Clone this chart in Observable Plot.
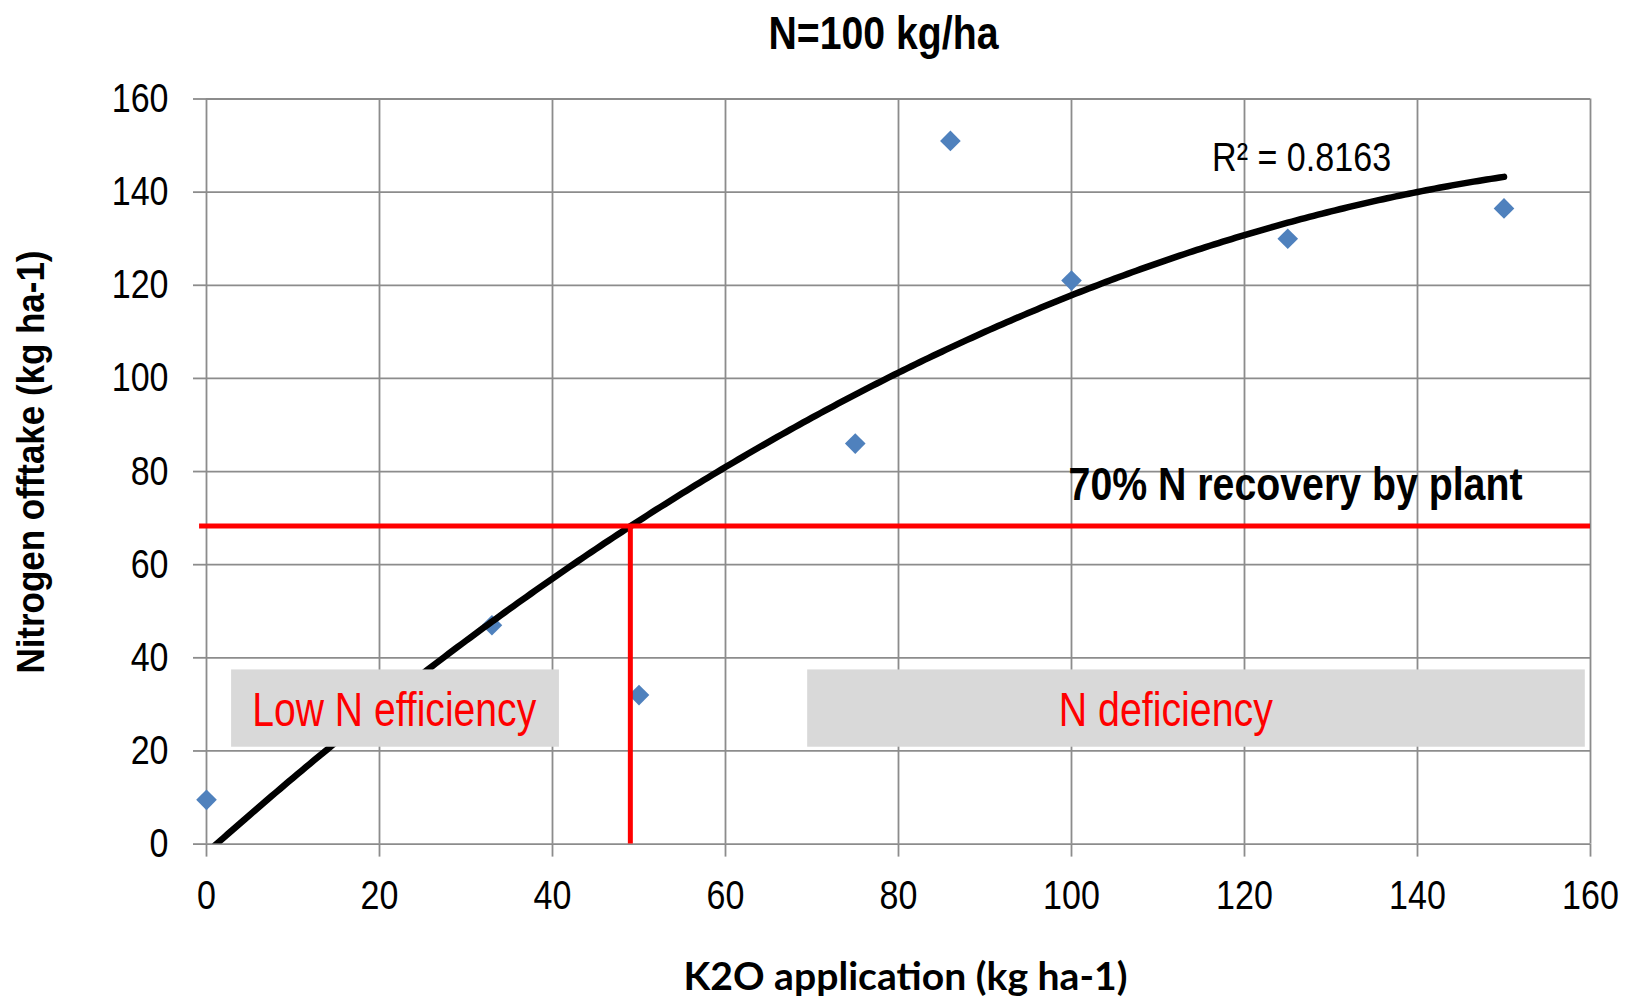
<!DOCTYPE html>
<html>
<head>
<meta charset="utf-8">
<script src="https://cdn.jsdelivr.net/npm/d3@7"></script>
<script src="https://cdn.jsdelivr.net/npm/@observablehq/plot@0.6"></script>
<style>
  html, body { margin: 0; padding: 0; background: #ffffff; }
  #chart svg { display: block; }
</style>
</head>
<body>
<div id="chart"></div>
<script>
// K2O application (kg/ha) and measured nitrogen offtake (kg/ha) at N = 100 kg/ha
const k2o = [0, 33, 50, 75, 86, 100, 125, 150];
const nOfftake = [9.5, 47, 32, 86, 151, 121, 130, 136.5];

const xTicks = [0, 20, 40, 60, 80, 100, 120, 140, 160];
const yTicks = [0, 20, 40, 60, 80, 100, 120, 140, 160];

// 70 % recovery threshold and the K2O rate where the trend reaches it
const recoveryLevel = 68.3;
const recoveryK2O = 49;
const recoverySpan = [-0.8, 160];

// shaded zones along the x axis
const zoneNames = ["Low N efficiency", "N deficiency"];
const zoneStart = [2.9, 69.5];
const zoneEnd = [40.8, 159.4];
const zoneLabelAt = [21.7, 110.9];
const zoneBand = [20.8, 37.4];
const zoneLabelY = 28.7;

const titleText = "N=100 kg/ha";
const xTitle = "K2O application (kg ha-1)";
const yTitle = "Nitrogen offtake (kg ha-1)";
const recoveryText = "70% N recovery by plant";
const r2Text = "R\u00b2 = 0.8163";
const r2At = [126.6, 147.4];
const recoveryTextAt = [125.9, 77.1];

const points = k2o.map((x, i) => ({x, y: nOfftake[i]}));
const zones = zoneNames.map((name, i) => ({name, x1: zoneStart[i], x2: zoneEnd[i], lx: zoneLabelAt[i]}));

// second-order polynomial least-squares trend through the measurements
function quadFit(xs, ys) {
  const S = [0, 0, 0, 0, 0], T = [0, 0, 0];
  xs.forEach((x, i) => {
    let p = 1;
    for (let k = 0; k < 5; k++) {
      S[k] += p;
      if (k < 3) T[k] += p * ys[i];
      p *= x;
    }
  });
  const M = [[S[0], S[1], S[2], T[0]], [S[1], S[2], S[3], T[1]], [S[2], S[3], S[4], T[2]]];
  for (let i = 0; i < 3; i++)
    for (let j = i + 1; j < 3; j++) {
      const f = M[j][i] / M[i][i];
      for (let k = i; k < 4; k++) M[j][k] -= f * M[i][k];
    }
  const c = [0, 0, 0];
  for (let i = 2; i >= 0; i--) {
    let s = M[i][3];
    for (let k = i + 1; k < 3; k++) s -= M[i][k] * c[k];
    c[i] = s / M[i][i];
  }
  return c;
}
const [a0, a1, a2] = quadFit(k2o, nOfftake);
const xMin = d3.min(k2o), xMax = d3.max(k2o);
const trend = d3.range(xMin, xMax + 1e-9, 0.5).map(x => ({x, y: a0 + a1 * x + a2 * x * x}));

const narrow = "'Liberation Sans', Arial, sans-serif";
const humanist = "Lato, 'Open Sans', sans-serif";
const gridColor = "#8c8c8c";

const chart = Plot.plot({
  width: 1625,
  height: 999,
  marginLeft: 206,
  marginRight: 35,
  marginTop: 98.5,
  marginBottom: 155.4,
  style: {fontFamily: narrow, background: "#ffffff", color: "#000000"},
  x: {domain: [0, 160]},
  y: {domain: [0, 160]},
  marks: [
    Plot.gridX(xTicks, {stroke: gridColor, strokeOpacity: 1, strokeWidth: 1.8}),
    Plot.gridY(yTicks, {stroke: gridColor, strokeOpacity: 1, strokeWidth: 1.8}),
    Plot.axisX({ticks: xTicks, tickSize: 13, tickPadding: 23, fontSize: 40.5, stroke: gridColor, strokeWidth: 1.8, fill: "#000000", label: null}),
    Plot.axisY({ticks: yTicks, tickSize: 13, tickPadding: 25, fontSize: 40.5, stroke: gridColor, strokeWidth: 1.8, fill: "#000000", label: null}),
    Plot.dot(points, {x: "x", y: "y", symbol: "diamond2", r: 9.3, fill: "#4f81bd", stroke: "none"}),
    Plot.line(trend, {x: "x", y: "y", stroke: "#000000", strokeWidth: 6.5, strokeLinecap: "round", clip: true}),
    Plot.ruleY([recoveryLevel], {x1: recoverySpan[0], x2: recoverySpan[1], stroke: "#ff0000", strokeWidth: 5}),
    Plot.ruleX([recoveryK2O], {y1: 0, y2: recoveryLevel, stroke: "#ff0000", strokeWidth: 5}),
    Plot.rect(zones, {x1: "x1", x2: "x2", y1: zoneBand[0], y2: zoneBand[1], fill: "#d9d9d9"}),
    Plot.text(zones, {x: "lx", y: zoneLabelY, text: "name", fill: "#ff0000", fontSize: 49, lineAnchor: "middle"}),
    Plot.text([recoveryText], {x: recoveryTextAt[0], y: recoveryTextAt[1], text: d => d, fontSize: 45.6, fontWeight: "bold", fill: "#000000", lineAnchor: "middle"}),
    Plot.text([r2Text], {x: r2At[0], y: r2At[1], text: d => d, fontSize: 40.5, fill: "#000000", lineAnchor: "middle"}),
    Plot.text([titleText], {frameAnchor: "top", dx: -15, dy: -64.5, text: d => d, fontSize: 46, fontWeight: "bold", fill: "#000000", textAnchor: "middle", lineAnchor: "middle"}),
    Plot.text([yTitle], {frameAnchor: "left", dx: -175, dy: -9.5, rotate: -90, text: d => d, fontSize: 39.6, fontWeight: "bold", fill: "#000000", textAnchor: "middle", lineAnchor: "middle"}),
    Plot.text([xTitle], {frameAnchor: "bottom", dx: 7, dy: 133, text: d => d, fontSize: 39, fontWeight: "bold", fontFamily: humanist, fill: "#000000", textAnchor: "middle", lineAnchor: "middle"})
  ]
});
document.getElementById("chart").append(chart);

// condensed lettering: squeeze each label to its set width
const labelWidths = new Map([
  [titleText, 230],
  [xTitle, 444],
  [yTitle, 423],
  [recoveryText, 454],
  [r2Text, 179],
  ["Low N efficiency", 284],
  ["N deficiency", 214]
]);
const tickSqueeze = 0.84;
chart.querySelectorAll("text").forEach(t => {
  const s = t.textContent;
  const natural = t.getComputedTextLength();
  const w = labelWidths.has(s) ? labelWidths.get(s) : natural * tickSqueeze;
  t.setAttribute("textLength", w);
  t.setAttribute("lengthAdjust", "spacingAndGlyphs");
});
</script>
</body>
</html>
